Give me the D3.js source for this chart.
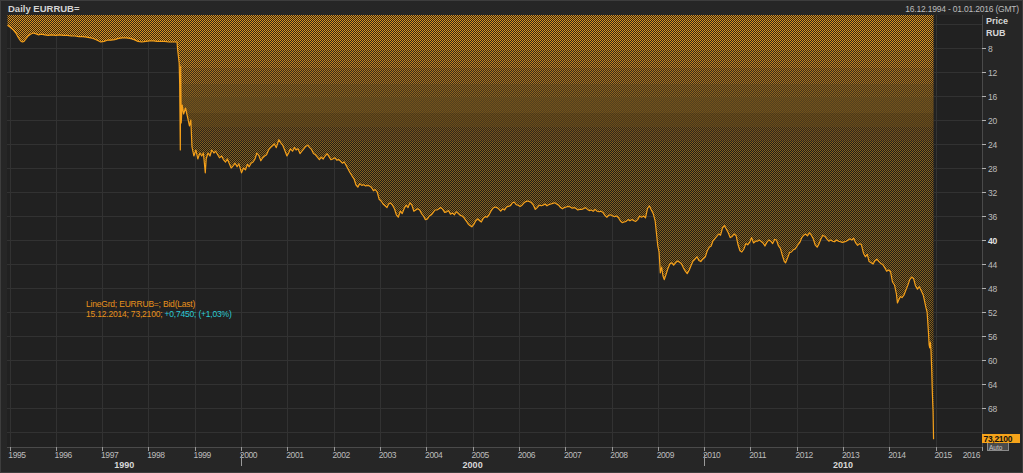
<!DOCTYPE html>
<html><head><meta charset="utf-8">
<script src="https://cdn.jsdelivr.net/npm/d3@7/dist/d3.min.js"></script>
<style>
html,body{margin:0;padding:0;background:#262626;overflow:hidden}
svg{display:block}
text{font-family:"Liberation Sans",Arial,sans-serif}
</style></head><body>
<script>
// ---- data ----
const title = "Daily EURRUB=";
const rangeLabel = "16.12.1994 - 01.01.2016 (GMT)";
const unitLabels = ["Price","RUB"];
const legendLine1 = "LineGrd; EURRUB=; Bid(Last)";
const legendLine2a = "15.12.2014; 73,2100; ";
const legendLine2b = "+0,7450; (+1,03%)";
const lastValueLabel = "73,2100";
const yTickValues = [8,12,16,20,24,28,32,36,40,44,48,52,56,60,64,68];
const yGridValues = [4,8,12,16,20,24,28,32,36,40,44,48,52,56,60,64,68,72];
const yearLabels = [1995,1996,1997,1998,1999,2000,2001,2002,2003,2004,2005,2006,2007,2008,2009,2010,2011,2012,2013,2014,2015,2016];
const decadeLabels = [1990,2000,2010];
const domainStart = "1994-12-16", domainEnd = "2016-01-01";
const yDomain = [2.5, 74.5];

const eurRub = [
["1994-12-16",4.2],["1995-01-10",4.6],["1995-02-01",5.0],["1995-02-20",5.5],["1995-03-10",6.2],["1995-03-28",6.8],
["1995-04-12",7.0],["1995-04-25",6.9],["1995-05-10",6.5],["1995-05-28",6.0],["1995-06-15",5.7],["1995-07-05",5.5],
["1995-07-25",5.6],["1995-08-15",5.8],["1995-09-10",5.7],["1995-10-05",5.8],["1995-11-01",5.9],["1995-12-01",5.8],
["1996-01-01",5.9],["1996-02-01",5.8],["1996-03-01",5.9],["1996-04-01",5.9],["1996-05-01",6.0],["1996-06-01",6.0],
["1996-07-01",6.1],["1996-08-01",6.1],["1996-09-01",6.2],["1996-10-01",6.3],["1996-11-01",6.5],["1996-12-01",6.8],
["1996-12-20",7.0],["1997-01-15",6.9],["1997-02-10",6.7],["1997-03-10",6.7],["1997-04-10",6.6],["1997-05-10",6.4],
["1997-06-10",6.3],["1997-07-10",6.3],["1997-08-10",6.4],["1997-09-10",6.6],["1997-10-10",6.9],["1997-11-10",7.0],
["1997-12-10",6.9],["1998-01-10",6.8],["1998-02-10",6.8],["1998-03-10",6.9],["1998-04-10",6.9],["1998-05-10",6.9],
["1998-06-10",7.0],["1998-07-10",7.0],["1998-08-14",7.0],["1998-08-20",8.5],["1998-08-31",10.5],["1998-09-04",14.0],
["1998-09-09",25.0],["1998-09-12",11.0],["1998-09-16",20.5],["1998-09-24",17.5],["1998-10-05",19.0],["1998-10-20",18.0],
["1998-11-05",19.5],["1998-11-20",21.0],["1998-12-01",20.0],["1998-12-10",24.5],["1998-12-25",26.0],["1999-01-10",25.0],
["1999-01-25",26.5],["1999-02-10",25.5],["1999-02-25",26.0],["1999-03-10",25.5],["1999-03-25",28.8],["1999-04-01",26.5],
["1999-04-15",25.5],["1999-05-01",26.0],["1999-05-15",25.0],["1999-06-01",25.5],["1999-06-15",25.2],["1999-07-01",25.8],
["1999-07-15",26.3],["1999-08-01",26.0],["1999-08-15",26.6],["1999-09-01",27.0],["1999-09-15",26.5],["1999-10-01",27.3],
["1999-10-15",28.0],["1999-11-01",27.6],["1999-11-15",27.2],["1999-12-01",27.8],["1999-12-15",27.3],["2000-01-05",28.8],
["2000-01-20",28.0],["2000-02-05",28.3],["2000-02-20",27.4],["2000-03-05",27.8],["2000-03-20",27.2],["2000-04-05",27.0],
["2000-04-20",26.5],["2000-05-05",25.5],["2000-05-20",25.9],["2000-06-05",26.8],["2000-06-20",26.3],["2000-07-05",26.0],
["2000-07-20",25.8],["2000-08-05",25.0],["2000-08-20",24.6],["2000-09-05",24.3],["2000-09-20",24.0],["2000-10-05",24.6],
["2000-10-25",23.3],["2000-11-10",23.8],["2000-11-25",24.2],["2000-12-10",25.0],["2000-12-28",26.0],
["2001-01-10",25.5],["2001-01-25",24.8],["2001-02-10",25.2],["2001-02-25",24.6],["2001-03-10",25.0],["2001-03-25",24.8],
["2001-04-10",25.6],["2001-04-25",25.2],["2001-05-10",24.8],["2001-05-25",24.4],["2001-06-10",24.2],["2001-06-25",24.6],
["2001-07-10",24.9],["2001-07-25",25.6],["2001-08-10",25.8],["2001-08-25",26.2],["2001-09-10",26.6],["2001-09-25",26.2],
["2001-10-10",26.5],["2001-10-25",26.0],["2001-11-10",25.6],["2001-11-25",26.1],["2001-12-10",26.6],["2001-12-25",26.5],
["2002-01-10",26.3],["2002-01-25",26.7],["2002-02-10",26.6],["2002-02-25",26.9],["2002-03-10",27.2],["2002-03-25",27.0],
["2002-04-10",27.6],["2002-04-25",28.2],["2002-05-10",28.8],["2002-05-25",29.3],["2002-06-10",29.8],["2002-06-25",30.8],
["2002-07-10",31.2],["2002-07-25",30.6],["2002-08-10",30.9],["2002-08-25",30.8],["2002-09-10",31.0],["2002-09-25",30.9],
["2002-10-10",31.0],["2002-10-25",31.2],["2002-11-10",31.8],["2002-11-25",31.6],["2002-12-10",32.0],["2002-12-25",33.2],
["2003-01-10",33.5],["2003-01-25",34.0],["2003-02-10",34.3],["2003-02-25",34.6],["2003-03-10",34.0],["2003-03-25",33.8],
["2003-04-10",34.2],["2003-04-25",34.8],["2003-05-10",35.8],["2003-05-25",36.2],["2003-06-10",35.2],["2003-06-25",35.6],
["2003-07-10",34.8],["2003-07-25",34.2],["2003-08-10",34.6],["2003-08-25",33.8],["2003-09-10",34.2],["2003-09-25",35.2],
["2003-10-10",35.0],["2003-10-25",34.8],["2003-11-10",35.0],["2003-11-25",35.6],["2003-12-10",36.0],["2003-12-25",36.6],
["2004-01-10",36.5],["2004-01-25",36.0],["2004-02-10",35.8],["2004-02-25",35.4],["2004-03-10",35.0],["2004-03-25",35.0],
["2004-04-10",34.8],["2004-04-25",34.6],["2004-05-10",34.9],["2004-05-25",35.4],["2004-06-10",35.3],["2004-06-25",35.1],
["2004-07-10",35.7],["2004-07-25",35.5],["2004-08-10",35.8],["2004-08-25",35.3],["2004-09-10",35.6],["2004-09-25",35.9],
["2004-10-10",36.0],["2004-10-25",36.3],["2004-11-10",36.8],["2004-11-25",37.3],["2004-12-10",37.6],["2004-12-25",37.8],
["2005-01-10",37.4],["2005-01-25",36.8],["2005-02-10",36.5],["2005-02-25",36.8],["2005-03-10",37.0],["2005-03-25",36.4],
["2005-04-10",36.1],["2005-04-25",36.2],["2005-05-10",35.8],["2005-05-25",35.2],["2005-06-10",34.7],["2005-06-25",34.5],
["2005-07-10",34.6],["2005-07-25",34.8],["2005-08-10",35.2],["2005-08-25",34.8],["2005-09-10",35.0],["2005-09-25",34.5],
["2005-10-10",34.4],["2005-10-25",34.3],["2005-11-10",33.8],["2005-11-25",33.7],["2005-12-10",34.1],["2005-12-25",34.2],
["2006-01-10",34.4],["2006-01-25",34.2],["2006-02-10",33.8],["2006-02-25",33.6],["2006-03-10",33.5],["2006-03-25",33.6],
["2006-04-10",33.8],["2006-04-25",34.2],["2006-05-10",34.9],["2006-05-25",34.6],["2006-06-10",34.2],["2006-06-25",34.3],
["2006-07-10",34.2],["2006-07-25",34.0],["2006-08-10",34.3],["2006-08-25",34.1],["2006-09-10",34.0],["2006-09-25",33.9],
["2006-10-10",33.8],["2006-10-25",34.0],["2006-11-10",34.2],["2006-11-25",34.6],["2006-12-10",34.8],["2006-12-25",34.6],
["2007-01-10",34.5],["2007-01-25",34.4],["2007-02-10",34.5],["2007-02-25",34.7],["2007-03-10",34.6],["2007-03-25",34.7],
["2007-04-10",35.0],["2007-04-25",34.9],["2007-05-10",34.9],["2007-05-25",34.8],["2007-06-10",34.6],["2007-06-25",34.9],
["2007-07-10",35.1],["2007-07-25",35.0],["2007-08-10",35.2],["2007-08-25",34.9],["2007-09-10",35.2],["2007-09-25",35.3],
["2007-10-10",35.2],["2007-10-25",35.4],["2007-11-10",35.9],["2007-11-25",36.2],["2007-12-10",35.9],["2007-12-25",35.8],
["2008-01-10",36.0],["2008-01-25",36.1],["2008-02-10",36.0],["2008-02-25",36.3],["2008-03-10",36.8],["2008-03-25",37.1],
["2008-04-10",37.0],["2008-04-25",36.9],["2008-05-10",36.6],["2008-05-25",36.8],["2008-06-10",36.6],["2008-06-25",36.8],
["2008-07-10",36.9],["2008-07-25",36.6],["2008-08-10",36.0],["2008-08-25",36.2],["2008-09-10",36.0],["2008-09-25",36.3],
["2008-10-10",34.8],["2008-10-25",34.3],["2008-11-10",35.0],["2008-11-25",35.6],["2008-12-10",36.8],["2008-12-20",38.8],
["2008-12-31",41.0],["2009-01-10",42.0],["2009-01-20",45.5],["2009-01-30",44.5],["2009-02-10",46.0],["2009-02-20",46.6],
["2009-03-05",45.8],["2009-03-20",44.8],["2009-04-05",44.0],["2009-04-20",43.8],["2009-05-05",44.2],["2009-05-20",43.8],
["2009-06-05",43.5],["2009-06-20",43.7],["2009-07-05",43.9],["2009-07-20",44.6],["2009-08-05",45.2],["2009-08-20",45.6],
["2009-09-05",45.0],["2009-09-20",44.2],["2009-10-05",43.5],["2009-10-20",43.2],["2009-11-05",42.8],["2009-11-20",43.4],
["2009-12-05",43.6],["2009-12-20",43.2],
["2010-01-10",42.8],["2010-01-25",41.8],["2010-02-10",41.2],["2010-02-25",41.0],["2010-03-10",40.2],["2010-03-25",39.8],
["2010-04-10",39.4],["2010-04-25",39.0],["2010-05-10",39.2],["2010-05-25",38.0],["2010-06-10",37.6],["2010-06-25",38.2],
["2010-07-10",38.8],["2010-07-25",39.6],["2010-08-10",39.4],["2010-08-25",39.0],["2010-09-10",39.3],["2010-09-25",40.8],
["2010-10-10",41.8],["2010-10-25",42.0],["2010-11-10",41.5],["2010-11-25",40.6],["2010-12-10",40.8],["2010-12-25",40.4],
["2011-01-10",39.6],["2011-01-25",40.5],["2011-02-10",40.2],["2011-02-25",40.2],["2011-03-10",40.0],["2011-03-25",40.2],
["2011-04-10",40.5],["2011-04-25",41.0],["2011-05-10",40.4],["2011-05-25",40.0],["2011-06-10",40.2],["2011-06-25",40.6],
["2011-07-10",39.9],["2011-07-25",40.0],["2011-08-10",41.0],["2011-08-25",41.4],["2011-09-10",42.6],["2011-09-25",43.6],
["2011-10-05",43.8],["2011-10-20",43.0],["2011-11-05",42.1],["2011-11-20",42.0],["2011-12-05",41.6],["2011-12-20",41.5],
["2012-01-10",40.8],["2012-01-25",40.4],["2012-02-10",39.6],["2012-02-25",39.2],["2012-03-10",39.0],["2012-03-25",39.3],
["2012-04-10",38.8],["2012-04-25",39.2],["2012-05-10",39.8],["2012-05-25",40.8],["2012-06-10",41.2],["2012-06-25",40.6],
["2012-07-10",39.8],["2012-07-25",39.2],["2012-08-10",39.4],["2012-08-25",39.8],["2012-09-10",40.2],["2012-09-25",40.0],
["2012-10-10",40.2],["2012-10-25",40.3],["2012-11-10",40.0],["2012-11-25",40.2],["2012-12-10",40.3],["2012-12-25",40.4],
["2013-01-10",40.3],["2013-01-25",40.2],["2013-02-10",40.0],["2013-02-25",39.8],["2013-03-10",40.0],["2013-03-25",39.7],
["2013-04-10",40.5],["2013-04-25",40.9],["2013-05-10",40.6],["2013-05-25",40.8],["2013-06-10",42.2],["2013-06-25",42.8],
["2013-07-10",42.4],["2013-07-25",43.6],["2013-08-10",43.8],["2013-08-25",44.0],["2013-09-10",43.4],["2013-09-25",43.2],
["2013-10-10",43.6],["2013-10-25",43.9],["2013-11-10",44.1],["2013-11-25",44.6],["2013-12-10",45.2],["2013-12-25",45.0],
["2014-01-10",45.3],["2014-01-25",47.0],["2014-02-10",47.5],["2014-02-25",49.0],["2014-03-05",50.5],["2014-03-15",50.0],
["2014-03-28",49.4],["2014-04-10",49.6],["2014-04-25",49.2],["2014-05-10",48.4],["2014-05-25",47.6],["2014-06-10",46.6],
["2014-06-25",46.2],["2014-07-10",46.4],["2014-07-25",47.6],["2014-08-10",48.2],["2014-08-25",47.8],["2014-09-10",48.5],
["2014-09-25",49.2],["2014-10-05",50.2],["2014-10-15",51.2],["2014-10-25",52.0],["2014-11-05",55.5],["2014-11-10",57.5],
["2014-11-15",58.0],["2014-11-20",57.0],["2014-11-25",58.5],["2014-12-01",62.0],["2014-12-04",64.5],["2014-12-08",67.0],
["2014-12-11",68.5],["2014-12-15",73.21]
];

// ---- drawing ----
const W = 1023, H = 473;
const plot = {left: 7, top: 15, right: 982, bottom: 447};
const parse = d3.timeParse("%Y-%m-%d");
const data = eurRub.map(d => ({date: parse(d[0]), v: d[1]}));

const x = d3.scaleTime().domain([parse(domainStart), parse(domainEnd)]).range([7.5, plot.right]);
const y = d3.scaleLinear().domain(yDomain).range([plot.top, plot.bottom]);

const svg = d3.select("body").append("svg").attr("width", W).attr("height", H);

// frame
svg.append("rect").attr("x",0).attr("y",0).attr("width",W).attr("height",H).attr("fill","#262626");
svg.append("rect").attr("x",0.5).attr("y",0.5).attr("width",W-1).attr("height",H-1).attr("fill","none").attr("stroke","#3d3d3d");
svg.append("rect").attr("x",plot.left).attr("y",plot.top).attr("width",plot.right-plot.left).attr("height",plot.bottom-plot.top).attr("fill","#212121");

const defs = svg.append("defs");
// dither bands: [top y, bottom y, dot colour, gap colour]
const fillBands = [
  [15, 50, "#dc921e", "#2f2517"],
  [50, 68, "#c8851d", "#33281a"],
  [68, 84, "#ad751f", "#3a2c19"],
  [84, 97, "#8c631e", "#45331a"],
  [97, 113, "#72521c", "#54401d"],
  [113, 127, "#6a4d1b", "#4a3719"],
  [127, 142, "#74541d", "#32271a"],
  [142, 447, "#85601d", "#211d18"]
];
fillBands.forEach((b, i) => {
  const p = defs.append("pattern").attr("id","chk"+i).attr("width",2).attr("height",2).attr("patternUnits","userSpaceOnUse");
  p.append("rect").attr("x",0).attr("y",0).attr("width",2).attr("height",2).attr("fill",b[3]);
  p.append("rect").attr("x",0).attr("y",0).attr("width",1).attr("height",1).attr("fill",b[2]);
  p.append("rect").attr("x",1).attr("y",1).attr("width",1).attr("height",1).attr("fill",b[2]);
});

const area = d3.area().x(d=>x(d.date)).y0(y(yDomain[0])).y1(d=>y(d.v));
defs.append("clipPath").attr("id","areaClip").append("path").datum(data).attr("d",area);

// grid
const gGrid = svg.append("g").attr("shape-rendering","crispEdges");
gGrid.selectAll("line.h").data(yGridValues).join("line")
  .attr("x1",plot.left).attr("x2",plot.right).attr("y1",d=>Math.round(y(d))+0.5).attr("y2",d=>Math.round(y(d))+0.5)
  .attr("stroke","#323232");
gGrid.selectAll("line.v").data(yearLabels.slice(0,-1)).join("line")
  .attr("x1",d=>Math.round(x(new Date(d,0,1)))+0.5).attr("x2",d=>Math.round(x(new Date(d,0,1)))+0.5)
  .attr("y1",plot.top).attr("y2",plot.bottom).attr("stroke","#323232");

// dotted fill between line and top
const gFill = svg.append("g").attr("clip-path","url(#areaClip)");
gFill.selectAll("rect").data(fillBands).join("rect")
  .attr("x",plot.left).attr("y",d=>d[0]).attr("width",plot.right-plot.left).attr("height",d=>d[1]-d[0])
  .attr("fill",(d,i)=>"url(#chk"+i+")").attr("shape-rendering","crispEdges");

const line = d3.line().x(d=>x(d.date)).y(d=>y(d.v));
svg.append("path").datum(data).attr("d",line).attr("fill","none").attr("stroke","#f5a01a").attr("stroke-width",1.2).attr("stroke-linejoin","round");

// right axis
const gAxis = svg.append("g").attr("shape-rendering","crispEdges");
gAxis.append("line").attr("x1",plot.right+0.5).attr("x2",plot.right+0.5).attr("y1",plot.top).attr("y2",plot.bottom).attr("stroke","#4a4a4a");
gAxis.append("line").attr("x1",plot.left).attr("x2",plot.right).attr("y1",plot.bottom+0.5).attr("y2",plot.bottom+0.5).attr("stroke","#4a4a4a");
const yt = svg.append("g");
yt.selectAll("line").data(yTickValues).join("line")
  .attr("x1",plot.right).attr("x2",plot.right+4).attr("y1",d=>Math.round(y(d))+0.5).attr("y2",d=>Math.round(y(d))+0.5)
  .attr("stroke","#b0b0b0").attr("shape-rendering","crispEdges");
yt.selectAll("text").data(yTickValues).join("text")
  .attr("x",plot.right+6).attr("y",d=>y(d)+3.5)
  .attr("fill",d=>d===40?"#e4e4e4":"#bdbdbd").attr("font-size","8.5px").attr("letter-spacing","-0.3px")
  .attr("font-weight",d=>d===40?"bold":"normal").text(d=>d);

svg.append("text").attr("x",986).attr("y",24).attr("fill","#d6d6d6").attr("font-size","9px").attr("font-weight","bold").text(unitLabels[0]);
svg.append("text").attr("x",986).attr("y",36).attr("fill","#d6d6d6").attr("font-size","9px").attr("font-weight","bold").text(unitLabels[1]);

// bottom axis: years
const gx = svg.append("g");
gx.selectAll("line").data(yearLabels).join("line")
  .attr("x1",d=>Math.round(x(new Date(d,0,1)))+0.5).attr("x2",d=>Math.round(x(new Date(d,0,1)))+0.5)
  .attr("y1",plot.bottom).attr("y2",plot.bottom+4).attr("stroke","#9a9a9a").attr("shape-rendering","crispEdges");
gx.selectAll("text").data(yearLabels).join("text")
  .attr("x",d=>d===2016 ? x(new Date(d,0,1))-2 : x(new Date(d,0,1))-1.2)
  .attr("text-anchor",d=>d===2016?"end":"start")
  .attr("y",458).attr("fill","#bdbdbd").attr("font-size","8.5px").attr("letter-spacing","-0.4px").text(d=>d);

// decades
const decStart = d => Math.max(x.range()[0], x(new Date(d,0,1)));
const decEnd = d => Math.min(x.range()[1], x(new Date(d+10,0,1)));
gx.selectAll("line.dec").data(decadeLabels.slice(1)).join("line")
  .attr("x1",d=>Math.round(x(new Date(d,0,1)))+0.5).attr("x2",d=>Math.round(x(new Date(d,0,1)))+0.5)
  .attr("y1",454).attr("y2",466).attr("stroke","#9a9a9a").attr("shape-rendering","crispEdges");
gx.selectAll("text.dec").data(decadeLabels).join("text")
  .attr("x",d=>(decStart(d)+decEnd(d))/2).attr("text-anchor","middle")
  .attr("y",468).attr("fill","#d8d8d8").attr("font-size","9px").attr("font-weight","bold").text(d=>d);

// titles
svg.append("text").attr("x",8).attr("y",12).attr("fill","#d4d4d4").attr("font-size","9.5px").attr("font-weight","bold").text(title);
svg.append("text").attr("x",1019).attr("y",12).attr("text-anchor","end").attr("fill","#bdbdbd").attr("font-size","8.5px").attr("letter-spacing","-0.2px").text(rangeLabel);

// legend
svg.append("text").attr("x",86).attr("y",307).attr("fill","#e8921c").attr("font-size","8.5px").attr("letter-spacing","-0.2px").text(legendLine1);
const l2 = svg.append("text").attr("x",86).attr("y",317).attr("font-size","8.5px").attr("letter-spacing","-0.2px");
l2.append("tspan").attr("fill","#e8921c").text(legendLine2a);
l2.append("tspan").attr("fill","#2ccbd6").text(legendLine2b);

// last value marker
const last = data[data.length-1];
const ly = Math.round(y(last.v));
svg.append("rect").attr("x",987).attr("y",ly+3).attr("width",21).attr("height",8).attr("fill","#4a4a4a").attr("stroke","#8a8a8a").attr("shape-rendering","crispEdges");
svg.append("text").attr("x",989).attr("y",ly+10.5).attr("fill","#c8c8c8").attr("font-size","6.5px").text("Auto");
svg.append("rect").attr("x",plot.right).attr("y",ly-5).attr("width",38).attr("height",9).attr("fill","#f5a31a").attr("shape-rendering","crispEdges");
svg.append("text").attr("x",plot.right+1.5).attr("y",ly+3).attr("fill","#111").attr("font-size","8.5px").attr("font-weight","bold").attr("letter-spacing","-0.3px").text(lastValueLabel);
</script>
</body></html>
